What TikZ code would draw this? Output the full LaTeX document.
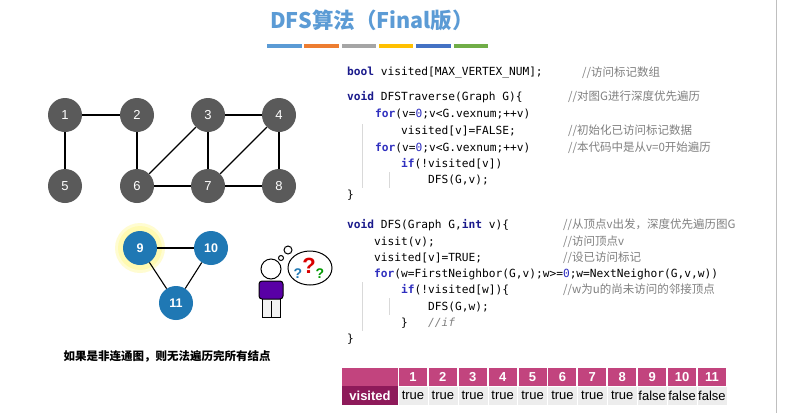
\documentclass[tikz,border=0pt]{standalone}
\usepackage{fontspec}
\setmainfont{Liberation Sans}
\setmonofont{DejaVu Sans Mono}
\newfontfamily\cjk{Noto Sans CJK SC}
\usetikzlibrary{shapes.geometric}
\definecolor{gnode}{HTML}{5A5A5A}
\definecolor{bnode}{HTML}{1F78B4}
\definecolor{kw}{HTML}{1A1A8C}
\definecolor{kb}{HTML}{2F2FBF}
\definecolor{cm}{HTML}{808080}
\definecolor{tblh}{HTML}{C2447E}
\definecolor{tbld}{HTML}{8E1A5A}
\definecolor{tcell}{HTML}{EDEDED}
\definecolor{ttl}{HTML}{5B9BD5}
\tikzset{
 gv/.style={circle,fill=gnode,minimum size=34pt,inner sep=0,text=white,font=\fontsize{13}{14}\selectfont},
 bv/.style={circle,fill=bnode,minimum size=34pt,inner sep=0,text=white,font=\bfseries\fontsize{12.5}{14}\selectfont},
 ed/.style={line width=1.1pt},
 cl/.style={anchor=west,inner sep=0,font=\ttfamily\fontsize{11.2}{12}\selectfont},
 cmt/.style={anchor=west,inner sep=0,text=cm,font=\cjk\fontsize{11.5}{12}\selectfont},
 hd/.style={fill=tblh,text=white,font=\bfseries\fontsize{13}{13}\selectfont,minimum height=18pt,inner sep=0},
 cel/.style={fill=tcell,draw=white,font=\fontsize{13}{13}\selectfont,minimum height=19pt,inner sep=0},
}
\newcommand{\kwd}[1]{\textcolor{kw}{\bfseries #1}}
\newcommand{\kwb}[1]{\textcolor{kb}{\bfseries #1}}
\newcommand{\nz}{\textcolor{kb}{0}}
\newcommand{\iv}[1]{\textit{#1}}
\begin{document}
\begin{tikzpicture}[x=1pt,y=-1pt]
\useasboundingbox (0,0) rectangle (787,413);
\fill[white] (0,0) rectangle (787,413);
\draw[gray!50] (776,0) -- (776,413);
% title
\node[font=\cjk\bfseries\fontsize{21.5}{24}\selectfont,text=ttl] (title) at (372,20) {DFS算法（Final版）};
\foreach \c [count=\i] in {5B9BD5,ED7D31,A5A5A5,FFC000,4472C4,70AD47}{
  \definecolor{bc}{HTML}{\c}
  \fill[bc] ({267+(\i-1)*37.3},43.5) rectangle ++(34.5,4);
}
% graph 1
\node[gv] (n1) at (65,115) {1};
\node[gv] (n2) at (137,115) {2};
\node[gv] (n3) at (208,115) {3};
\node[gv] (n4) at (279,115) {4};
\node[gv] (n5) at (65,186) {5};
\node[gv] (n6) at (137,186) {6};
\node[gv] (n7) at (208,186) {7};
\node[gv] (n8) at (279,186) {8};
\foreach \a/\b in {n1/n2,n1/n5,n2/n6,n3/n6,n3/n4,n3/n7,n4/n7,n4/n8,n6/n7,n7/n8}
  \draw[ed] (\a) -- (\b);
% graph 2
\fill[yellow!50,opacity=0.6] (140,248) circle (22);
\fill[yellow!30,opacity=0.6] (140,248) circle (25);
\node[bv] (n9) at (140,248) {9};
\node[bv] (n10) at (211,248) {10};
\node[bv] (n11) at (176,303) {11};
\foreach \a/\b in {n9/n10,n9/n11,n10/n11}
  \draw[ed] (\a) -- (\b);
\node[font=\cjk\bfseries\fontsize{11.5}{12}\selectfont] (note) at (167,356) {如果是非连通图，则无法遍历完所有结点};
% person
\draw[line width=1pt,fill=white] (281,258) circle (2.5);
\draw[line width=1pt,fill=white] (288,250) circle (4);
\draw[line width=1pt,fill=white] (310,268) ellipse (22 and 17);
\node[font=\bfseries\fontsize{22}{22}\selectfont,text=red!85!black] (q1) at (309,266) {?};
\node[font=\bfseries\fontsize{14}{14}\selectfont,text=bnode] (q2) at (298,274) {?};
\node[font=\bfseries\fontsize{14}{14}\selectfont,text=green!60!black] (q3) at (320,274) {?};
\draw[line width=1pt,fill=white!90!gray] (262,297) rectangle (280,317);
\draw[line width=1pt] (271,301) -- (271,317);
\draw[line width=1pt,fill=violet!70!blue,rounded corners=3pt] (259,281) rectangle (283,299);
\draw[line width=1pt,fill=white] (271,269) circle (10);
% code
\node[cl] (c1) at (347,73) {\kwd{bool} visited[MAX\_VERTEX\_NUM];};
\node[cmt] (m1) at (582,73) {//访问标记数组};
\node[cl] (c2) at (347,97) {\kwd{void} DFSTraverse(Graph G)\{};
\node[cmt] (m2) at (568,97) {//对图\iv{G}进行深度优先遍历};
\node[cl] (c3) at (375,114) {\kwb{for}(v=\nz;v<G.vexnum;++v)};
\node[cl] (c4) at (401,131) {visited[v]=FALSE;};
\node[cmt] (m4) at (568,131) {//初始化已访问标记数据};
\node[cl] (c5) at (375,148) {\kwb{for}(v=\nz;v<G.vexnum;++v)};
\node[cmt] (m5) at (568,148) {//本代码中是从\iv{v=0}开始遍历};
\node[cl] (c6) at (401,164) {\kwb{if}(!visited[v])};
\node[cl] (c7) at (428,180) {DFS(G,v);};
\node[cl] (c8) at (347,195) {\}};
\node[cl] (d1) at (347,225) {\kwd{void} DFS(Graph G,\kwd{int} v)\{};
\node[cmt] (e1) at (563,225) {//从顶点\iv{v}出发，深度优先遍历图\iv{G}};
\node[cl] (d2) at (374,242) {visit(v);};
\node[cmt] (e2) at (563,242) {//访问顶点\iv{v}};
\node[cl] (d3) at (374,258) {visited[v]=TRUE;};
\node[cmt] (e3) at (563,258) {//设已访问标记};
\node[cl] (d4) at (374,274) {\kwb{for}(w=FirstNeighbor(G,v);w>=\nz;w=NextNeighor(G,v,w))};
\node[cl] (d5) at (401,290) {\kwb{if}(!visited[w])\{};
\node[cmt] (e5) at (563,290) {//\iv{w}为\iv{u}的尚未访问的邻接顶点};
\node[cl] (d6) at (428,307) {DFS(G,w);};
\node[cl] (d7) at (401,323) {\}};
\node[cl,text=cm] (d8) at (428,323) {\itshape //if};
\node[cl] (d9) at (347,339) {\}};
\draw[gray!30] (362,124) -- (362,188);
\draw[gray!30] (389,172) -- (389,188);
\draw[gray!30] (362,282) -- (362,331);
\draw[gray!30] (389,298) -- (389,315);
% table
\node[hd,minimum width=56pt] (h0) at (370,377) {};
\node[fill=tbld,text=white,font=\bfseries\fontsize{13}{13}\selectfont,minimum height=19pt,minimum width=56pt,inner sep=0] (v0) at (370,395.5) {visited};
\foreach \i/\t in {1/true,2/true,3/true,4/true,5/true,6/true,7/true,8/true,9/false,10/false,11/false}{
  \node[hd,minimum width=28pt] (h\i) at ({398+(\i-0.5)*29.9},377) {\i};
  \node[cel,minimum width=29.9pt] (v\i) at ({398+(\i-0.5)*29.9},395.5) {\t};
  \draw[white,line width=1pt] ({398+(\i-1)*29.9},368) -- ++(0,18);
}
\end{tikzpicture}
\end{document}
